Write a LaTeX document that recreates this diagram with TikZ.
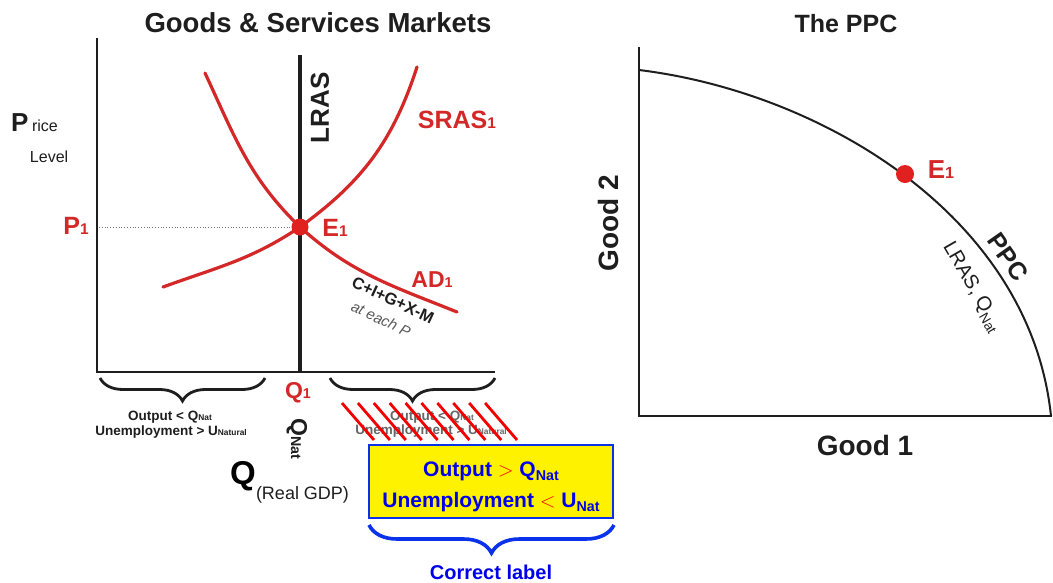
\documentclass[tikz,border=0pt]{standalone}
\usepackage{fontspec}
\setmainfont{Liberation Sans}
\usepackage{graphicx}
\usetikzlibrary{decorations.pathreplacing}
\definecolor{cred}{RGB}{212,40,40}
\definecolor{dotred}{RGB}{225,32,32}
\definecolor{cblue}{RGB}{0,0,235}
\definecolor{bblue}{RGB}{10,50,235}
\definecolor{ink}{RGB}{30,30,30}
\newcommand\fsz[1]{\fontsize{#1}{#1}\selectfont}
\newcommand\lo[1]{\scalebox{0.62}{#1}}
\newcommand\sbs[1]{\raisebox{-0.22em}{\scalebox{0.68}{#1}}}
\begin{document}
\begin{tikzpicture}[x=1pt,y=1pt]
\tikzset{
  every node/.style={inner sep=0pt, outer sep=0pt},
  axisline/.style={line width=2.4pt, draw=ink},
  lrasline/.style={line width=3.6pt, draw=ink},
  curveline/.style={line width=3.2pt, draw=cred, line cap=round},
  eqdot/.style={circle, fill=dotred, minimum size=17pt},
  redlbl/.style={text=cred, font=\fsz{25}\bfseries},
  blklbl/.style={text=ink, font=\fsz{26}\bfseries},
  smalllbl/.style={text=ink, font=\fsz{13.5}\bfseries, anchor=base},
  wronglbl/.style={text=black!60, font=\fsz{13.5}\bfseries, anchor=base},
  hatchline/.style={line width=2.8pt, draw=red!95!black},
  blackbrace/.style={line width=2.8pt, draw=ink, decorate, decoration={brace, mirror, amplitude=23pt, aspect=0.5}},
  bluebrace/.style={line width=3.6pt, draw=bblue, decorate, decoration={brace, mirror, amplitude=28pt, aspect=0.5}},
  boxtxt/.style={text=cblue, font=\fsz{21}\bfseries, anchor=base},
}
\fill[white] (0,0) rectangle (1053,-582);
\useasboundingbox (0,0) rectangle (1053,-582);

% ---------------- Left chart ----------------
\node[font=\fsz{27.5}\bfseries, text=ink] (title1) at (318,-23) {Goods \& Services Markets};

\coordinate (yTop) at (97,-38);
\coordinate (orig) at (97,-372);
\coordinate (xEnd) at (495,-372);
\draw[axisline] (yTop) -- (orig) -- (xEnd);

\coordinate (lrasTop) at (300,-55);
\coordinate (qOne) at (300,-372);
\coordinate (E) at (300,-227);
\coordinate (pAxis) at (99,-227);
\draw[dotted, line width=0.8pt, draw=black!55] (pAxis) -- (E);
\draw[lrasline] (lrasTop) -- (qOne);

\coordinate (sA) at (163,-287);
\coordinate (sB) at (417,-67);
\draw[curveline] (sA) to[out=20,in=214] (E) to[out=36,in=252] (sB);
\coordinate (dA) at (205,-73);
\coordinate (dB) at (457,-312);
\draw[curveline] (dA) to[out=-65,in=136] (E) to[out=-42,in=158] (dB);
\node[eqdot] (E1dot) at (E) {};

\node[blklbl, rotate=90] (lras) at (320,-108) {LRAS};
\node[redlbl] (sras) at (457,-120) {SRAS\lo{1}};
\node[redlbl] (e1l) at (335,-228) {E\lo{1}};
\node[redlbl, font=\fsz{23}\bfseries] (ad1) at (432,-280) {AD\lo{1}};
\node[text=ink, font=\fsz{16.5}\bfseries, rotate=-25] (cig) at (393,-300) {C+I+G+X-M};
\node[text=black!65, font=\fsz{15}\itshape, rotate=-25] (each) at (381,-319) {at each P};

\node[redlbl] (p1) at (76,-226) {P\lo{1}};
\node[text=ink, font=\fsz{26}\bfseries, anchor=base west] (pbig) at (11,-131) {P};
\node[text=ink, font=\fsz{16}, anchor=base west] (rice) at (32,-131) {rice};
\node[text=ink, font=\fsz{16}, anchor=base west] (level) at (30,-162) {Level};

\node[redlbl, font=\fsz{23}\bfseries] (q1) at (298,-393) {Q\lo{1}};
\node[text=ink, font=\fsz{23}\bfseries, rotate=-90] (qnat) at (297,-439) {Q\lo{Nat}};
\node[text=black, font=\fsz{33}\bfseries] (qbig) at (243,-476) {Q};
\node[text=ink, font=\fsz{18}, anchor=base west] (rgdp) at (256,-499) {(Real GDP)};

% braces
\coordinate (b1a) at (100,-378);
\coordinate (b1b) at (265,-378);
\coordinate (b2a) at (330,-378);
\coordinate (b2b) at (495,-378);
\draw[blackbrace] (b1a) -- (b1b);
\draw[blackbrace] (b2a) -- (b2b);

\node[smalllbl] (l1) at (170,-420) {Output < Q\lo{Nat}};
\node[smalllbl] (l2) at (171,-435) {Unemployment > U\lo{Natural}};
\node[wronglbl] (w1) at (432,-420) {Output < Q\lo{Nat}};
\node[wronglbl] (w2) at (431,-434) {Unemployment > U\lo{Natural}};
\foreach \i in {0,...,9} {
  \draw[hatchline] ({342+15.9*\i},-403) -- ++(32,-37);
}

% correct label box
\node[draw=bblue, fill=yellow, line width=1.4pt, minimum width=244pt, minimum height=73pt] (box) at (491,-481.5) {};
\node[boxtxt] (c1) at (491,-476) {Output \textcolor{red}{\mdseries$>$} Q\sbs{Nat}};
\node[boxtxt] (c2) at (491,-507) {Unemployment \textcolor{red}{\mdseries$<$} U\sbs{Nat}};
\coordinate (bb1) at (369,-525);
\coordinate (bb2) at (614,-525);
\draw[bluebrace] (bb1) -- (bb2);
\node[text=cblue, font=\fsz{20}\bfseries, anchor=base] (corr) at (491,-579) {Correct label};

% ---------------- Right chart ----------------
\node[font=\fsz{25}\bfseries, text=ink] (title2) at (846,-24) {The PPC};
\coordinate (ryTop) at (639,-47);
\coordinate (rorig) at (639,-416);
\coordinate (rxEnd) at (1052,-416);
\draw[line width=2.2pt, draw=ink] (ryTop) -- (rorig) -- (rxEnd);
\coordinate (ppcA) at (639,-70);
\coordinate (ppcB) at (1051,-416);
\draw[line width=2pt, draw=ink] (ppcA) .. controls (820,-92) and (1030,-215) .. (ppcB);
\node[eqdot, minimum size=18pt] (E2dot) at (905,-174) {};
\node[redlbl, font=\fsz{26}\bfseries] (e2l) at (941,-170) {E\lo{1}};
\node[blklbl, font=\fsz{28}\bfseries, rotate=90] (good2) at (608,-223) {Good 2};
\node[blklbl, font=\fsz{28}\bfseries] (good1) at (865,-445) {Good 1};
\node[blklbl, font=\fsz{25}\bfseries, rotate=-55] (ppc) at (1008,-257) {PPC};
\node[text=ink, font=\fsz{20}, rotate=-60] (lrasq) at (972,-287) {LRAS, Q\sbs{Nat}};
\end{tikzpicture}
\end{document}
